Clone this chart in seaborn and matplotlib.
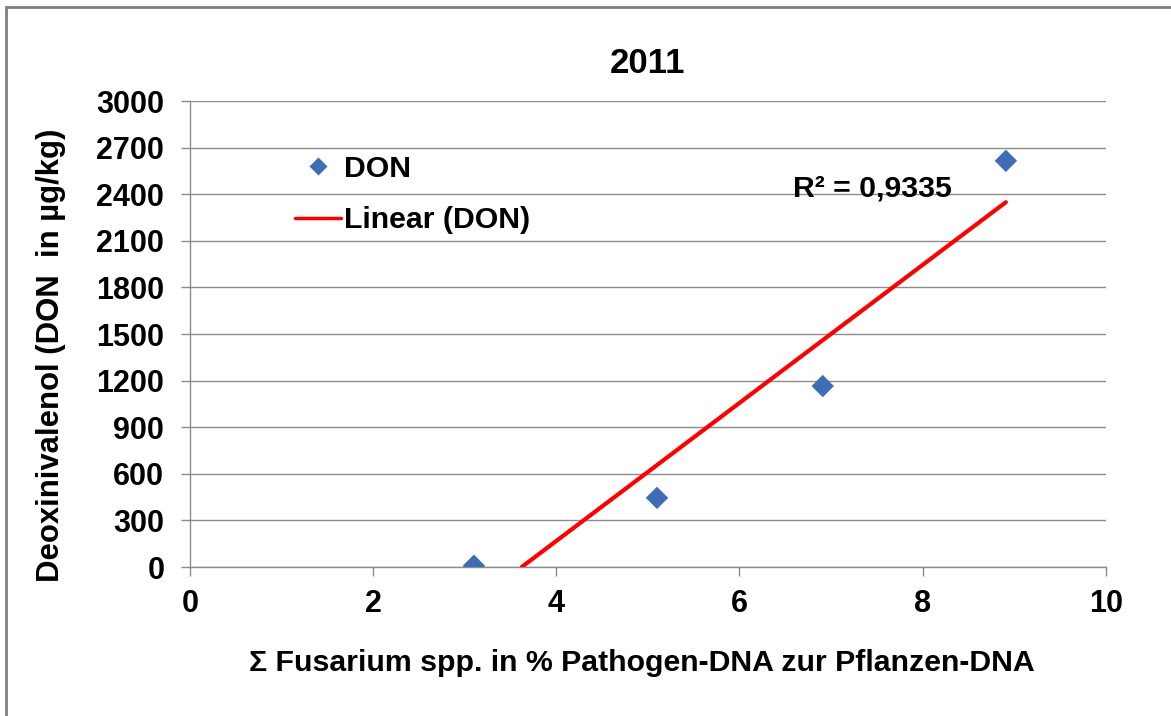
import numpy as np
import pandas as pd
import matplotlib
matplotlib.use("Agg")
import matplotlib.pyplot as plt
from matplotlib.patches import Rectangle
from matplotlib.lines import Line2D
import seaborn as sns

# Fusarium DNA share (%) and DON content (µg/kg), season 2011
fusarium_pct = [3.10, 5.10, 6.91, 8.91]
don_ug_kg = [8, 445, 1165, 2615]

x_ticks = [0, 2, 4, 6, 8, 10]
y_ticks = [0, 300, 600, 900, 1200, 1500, 1800, 2100, 2400, 2700, 3000]

df = pd.DataFrame({"fusarium": fusarium_pct, "don": don_ug_kg})

sns.set_theme(style="white")
plt.rcParams["font.family"] = ["Liberation Sans", "DejaVu Sans"]
plt.rcParams["font.weight"] = "bold"
plt.rcParams["text.color"] = "black"
plt.rcParams["axes.labelcolor"] = "black"

fig = plt.figure(figsize=(11.71, 7.16), dpi=100)
ax = fig.add_axes([0.1623, 0.2081, 0.9442 - 0.1623, 0.8589 - 0.2081])

grid_col = "#8c8c8c"
ax.set_axisbelow(True)
ax.yaxis.grid(True, color=grid_col, linewidth=1.0)
ax.xaxis.grid(False)

# linear trend line (least squares), drawn from its zero crossing to the last point
slope, intercept = np.polyfit(df["fusarium"], df["don"], 1)
pred = slope * df["fusarium"] + intercept
ss_res = ((df["don"] - pred) ** 2).sum()
ss_tot = ((df["don"] - df["don"].mean()) ** 2).sum()
r2 = 1 - ss_res / ss_tot
x_start = max(df["fusarium"].min(), -intercept / slope)
x_end = df["fusarium"].max()
trend = pd.DataFrame({"x": [x_start, x_end]})
trend["y"] = slope * trend["x"] + intercept
sns.lineplot(data=trend, x="x", y="y", ax=ax, color="#ff0000", linewidth=3.0,
             zorder=3, legend=False)

sns.scatterplot(data=df, x="fusarium", y="don", ax=ax, marker="D", s=130,
                color="#3e6db5", edgecolor="none", zorder=4, legend=False)

ax.set_xlim(0, 10)
ax.set_ylim(0, 3000)
ax.set_xticks(x_ticks)
ax.set_yticks(y_ticks)
ax.set_xticklabels([str(v) for v in x_ticks])
ax.set_yticklabels([str(v) for v in y_ticks])
ax.tick_params(axis="both", labelsize=22, length=6.5, width=1.0, color=grid_col,
               labelcolor="black", direction="out", bottom=True, left=True)
ax.tick_params(axis="y", pad=12)
ax.tick_params(axis="x", pad=9)
for lab in ax.get_xticklabels() + ax.get_yticklabels():
    lab.set_fontweight("bold")

for side in ["top", "right"]:
    ax.spines[side].set_visible(False)
for side in ["left", "bottom"]:
    ax.spines[side].set_color(grid_col)
    ax.spines[side].set_linewidth(1.0)

ax.set_xlabel("Σ Fusarium spp. in % Pathogen-DNA zur Pflanzen-DNA",
              fontsize=21.8, fontweight="bold")
ax.xaxis.set_label_coords(0.493, -0.175)
ax.set_ylabel("Deoxinivalenol (DON  in µg/kg)", fontsize=22.4, fontweight="bold")
ax.yaxis.set_label_coords(-0.1355, 0.455)
ax.set_title("2011", fontsize=25, fontweight="bold", pad=20)

ax.text(6.585, 2440, f"R² = {r2:.4f}".replace(".", ","), fontsize=21.8,
        fontweight="bold", ha="left", va="center")

handles = [
    Line2D([], [], linestyle="none", marker="D", markersize=9,
           markerfacecolor="#3e6db5", markeredgecolor="none"),
    Line2D([], [], color="#ff0000", linewidth=2.5),
]
leg = ax.legend(handles, ["DON", "Linear (DON)"], loc="upper left",
                bbox_to_anchor=(0.0983, 0.917), frameon=False, borderpad=0,
                prop={"size": 21.8, "weight": "bold"}, handlelength=1.5,
                handletextpad=0.1, labelspacing=0.77)

# chart frame
fig.add_artist(Rectangle((0.0051, -0.2), 1.3, 0.9902 + 0.2,
                         transform=fig.transFigure, fill=False,
                         edgecolor="#7f7f7f", linewidth=2.0))

fig.savefig("out.png", dpi=100)
